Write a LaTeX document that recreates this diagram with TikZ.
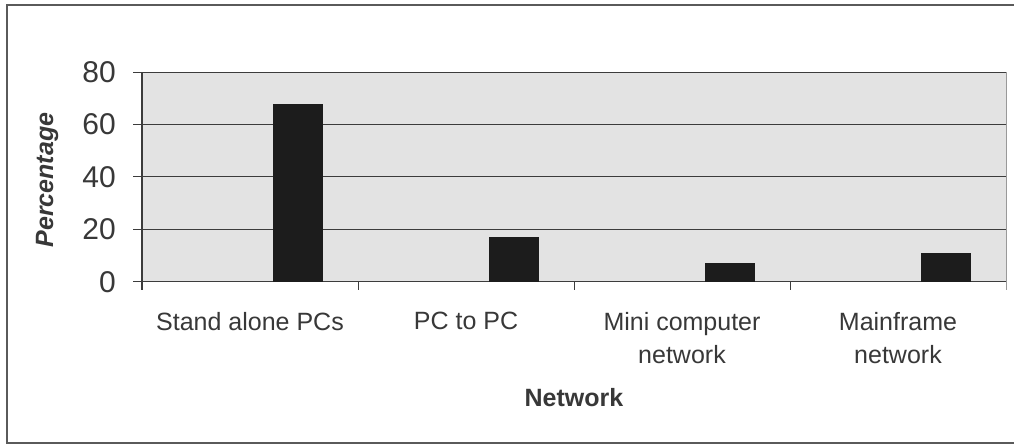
\documentclass[tikz,border=0pt]{standalone}
\usepackage{fontspec}
\setmainfont{Liberation Sans}
\definecolor{plotbg}{HTML}{E3E3E3}
\definecolor{gridc}{HTML}{3C3C3C}
\definecolor{barc}{HTML}{1C1C1C}
\definecolor{txtc}{HTML}{383838}
\definecolor{framec}{HTML}{5A5A5A}
\begin{document}
\begin{tikzpicture}[x=1pt,y=-1pt,
  ticklabel/.style={anchor=east,inner sep=0pt,text=txtc,font=\fontsize{30}{33}\selectfont},
  catlabel/.style={anchor=north,inner sep=0pt,align=center,text=txtc,font=\fontsize{25}{33}\selectfont},
  axtitle/.style={inner sep=0pt,text=txtc,font=\fontsize{25}{30}\selectfont\bfseries},
  gridline/.style={draw=gridc,line width=1.3pt},
  barbox/.style={fill=barc},
  frameline/.style={draw=framec,line width=1.2pt}]
\useasboundingbox (0,0) rectangle (1014,445);
\fill[white] (0,0) rectangle (1014,445);
% outer chart frame
\draw[frameline] (1014,5) -- (7,5) -- (7,443) -- (1014,443);
% plot area
\fill[plotbg] (142,72.3) rectangle (1006,281.7);
\draw[draw=gray!80,line width=1pt] (1006,72.3) -- (1006,290);
% gridlines and y ticks
\foreach \v/\yy in {0/281.7,20/229.3,40/176.7,60/124.3,80/72.3}{
  \draw[gridline] (133,\yy) -- (1006,\yy);
  \node[ticklabel] (t\v) at (116,\yy) {\v};
}
% y axis
\draw[gridline] (142,72.3) -- (142,290);
% category ticks
\foreach \xx in {358,574,790}{
  \draw[gridline,line width=1pt] (\xx,281.7) -- (\xx,290);
}
% bars
\begin{scope}[shift={(142,281.7)},x=1pt,y=2.6175pt]
  \fill[barbox] (131,0) rectangle (181,68);
  \fill[barbox] (347,0) rectangle (397,17.2);
  \fill[barbox] (563,0) rectangle (613,7);
  \fill[barbox] (779,0) rectangle (829,10.8);
\end{scope}
% category labels
\node[catlabel] (c1) at (250,312) {Stand alone PCs};
\node[catlabel] (c2) at (466,312) {PC to PC};
\node[catlabel] (c3) at (682,312) {Mini computer\\network};
\node[catlabel] (c4) at (898,312) {Mainframe\\network};
% axis titles
\node[axtitle,anchor=north] (xt) at (574,388) {Network};
\node[axtitle,rotate=90] (yt) at (47,180) {\itshape Percentage};
\end{tikzpicture}
\end{document}
